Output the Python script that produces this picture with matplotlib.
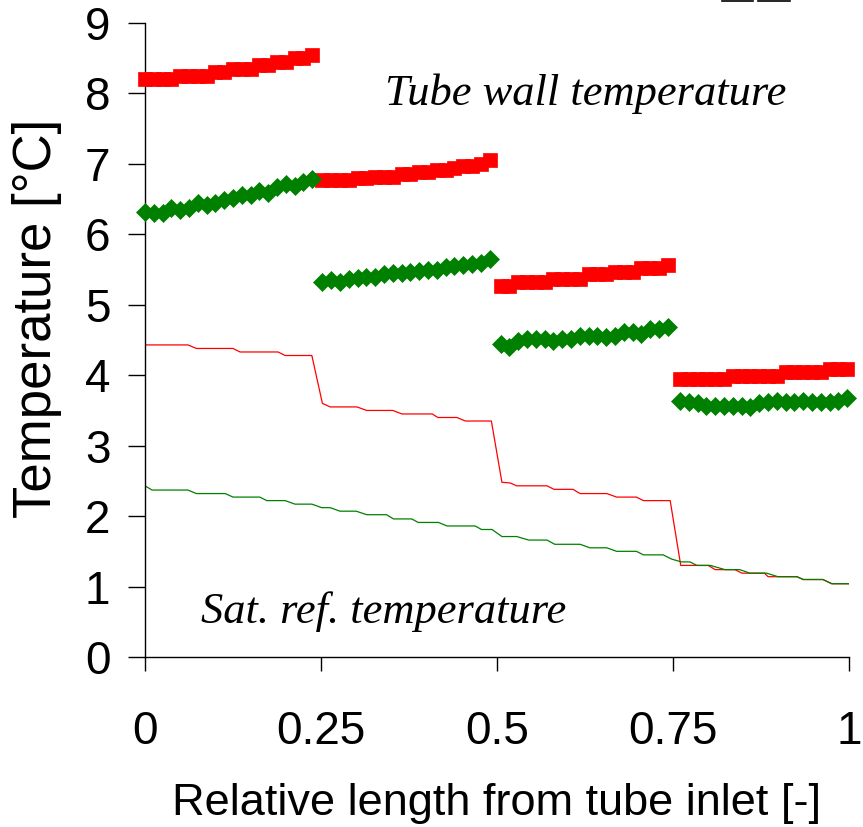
import numpy as np
import matplotlib
matplotlib.use("Agg")
import matplotlib.pyplot as plt
from matplotlib.lines import Line2D

plt.rcParams['font.family'] = ['Liberation Sans', 'DejaVu Sans']

# ---------------- data ----------------
seg_starts = [0.0, 0.252, 0.505, 0.76]
seg_step = 0.0125
n_per_seg = 20

wall_red = [
    [8.20, 8.20, 8.20, 8.20, 8.25, 8.25, 8.25, 8.25, 8.30, 8.30,
     8.35, 8.35, 8.35, 8.40, 8.40, 8.45, 8.45, 8.50, 8.50, 8.55],
    [6.77, 6.77, 6.77, 6.77, 6.80, 6.80, 6.82, 6.82, 6.82, 6.85,
     6.85, 6.88, 6.88, 6.91, 6.91, 6.94, 6.97, 6.97, 7.00, 7.05],
    [5.27, 5.27, 5.32, 5.32, 5.32, 5.32, 5.37, 5.37, 5.37, 5.37,
     5.43, 5.43, 5.43, 5.47, 5.47, 5.47, 5.52, 5.52, 5.52, 5.57],
    [3.94, 3.94, 3.94, 3.94, 3.94, 3.94, 3.99, 3.99, 3.99, 3.99,
     3.99, 3.99, 4.04, 4.04, 4.04, 4.04, 4.04, 4.09, 4.09, 4.09],
]

wall_green = [
    [6.32, 6.30, 6.30, 6.37, 6.35, 6.37, 6.44, 6.42, 6.44, 6.49,
     6.51, 6.56, 6.56, 6.62, 6.58, 6.67, 6.71, 6.69, 6.75, 6.78],
    [5.33, 5.35, 5.33, 5.37, 5.38, 5.40, 5.40, 5.43, 5.45, 5.45,
     5.47, 5.48, 5.50, 5.50, 5.53, 5.55, 5.57, 5.58, 5.60, 5.65],
    [4.44, 4.40, 4.49, 4.51, 4.51, 4.51, 4.49, 4.51, 4.51, 4.56,
     4.56, 4.56, 4.54, 4.56, 4.61, 4.61, 4.59, 4.65, 4.65, 4.69],
    [3.63, 3.62, 3.60, 3.57, 3.56, 3.57, 3.57, 3.56, 3.55, 3.60,
     3.62, 3.63, 3.62, 3.62, 3.63, 3.62, 3.62, 3.62, 3.64, 3.67],
]

sat_red_x = [0, 0.061, 0.073, 0.125, 0.135, 0.189, 0.199, 0.237, 0.252, 0.263,
             0.301, 0.315, 0.352, 0.365, 0.408, 0.416, 0.443, 0.455, 0.492, 0.507,
             0.519, 0.528, 0.571, 0.581, 0.608, 0.618, 0.656, 0.670, 0.698, 0.708,
             0.746, 0.761, 0.800, 0.810, 0.838, 0.848, 0.880, 0.885, 0.926, 0.935,
             0.963, 0.976, 1.0]
sat_red_y = [4.43, 4.43, 4.38, 4.38, 4.33, 4.33, 4.28, 4.28, 3.60, 3.55,
             3.55, 3.50, 3.50, 3.45, 3.45, 3.40, 3.40, 3.35, 3.35, 2.48,
             2.47, 2.43, 2.43, 2.38, 2.38, 2.32, 2.32, 2.27, 2.27, 2.22,
             2.22, 1.30, 1.30, 1.24, 1.24, 1.19, 1.19, 1.14, 1.14, 1.10,
             1.10, 1.04, 1.04]

sat_green_x = [0, 0.010, 0.061, 0.073, 0.114, 0.125, 0.163, 0.173, 0.199, 0.213,
               0.237, 0.251, 0.263, 0.277, 0.300, 0.315, 0.343, 0.353, 0.379, 0.388,
               0.417, 0.429, 0.469, 0.478, 0.493, 0.507, 0.528, 0.545, 0.571, 0.582,
               0.618, 0.632, 0.656, 0.670, 0.698, 0.708, 0.736, 0.748, 0.762, 0.774,
               0.784, 0.803, 0.824, 0.845, 0.859, 0.883, 0.899, 0.926, 0.935, 0.963,
               0.975, 1.0]
sat_green_y = [2.43, 2.37, 2.37, 2.32, 2.32, 2.27, 2.27, 2.22, 2.22, 2.17,
               2.17, 2.12, 2.12, 2.07, 2.07, 2.02, 2.02, 1.96, 1.96, 1.91,
               1.91, 1.86, 1.86, 1.81, 1.81, 1.71, 1.71, 1.66, 1.66, 1.60,
               1.60, 1.55, 1.55, 1.50, 1.50, 1.45, 1.45, 1.39, 1.35, 1.35,
               1.30, 1.30, 1.24, 1.24, 1.19, 1.19, 1.14, 1.14, 1.10, 1.10,
               1.04, 1.04]

x_ticks = [0, 0.25, 0.5, 0.75, 1]
x_tick_labels = ['0', '0.25', '0.5', '0.75', '1']
y_ticks = [0, 1, 2, 3, 4, 5, 6, 7, 8, 9]

RED = '#FF0000'
GREEN = '#008000'

# ---------------- figure ----------------
W, H = 863, 827
fig = plt.figure(figsize=(W / 100, H / 100), dpi=100)
ax = fig.add_axes([145 / W, (H - 657) / H, (849 - 145) / W, (657 - 23) / H])

ax.plot(sat_red_x, sat_red_y, color=RED, lw=0.9, zorder=2)
ax.plot(sat_green_x, sat_green_y, color=GREEN, lw=0.9, zorder=2)

for k, x0 in enumerate(seg_starts):
    xs = x0 + seg_step * np.arange(n_per_seg)
    ax.plot(xs, wall_red[k], ls='none', marker='s', ms=10.3, mfc=RED, mec=RED,
            mew=0.5, clip_on=False, zorder=3)
    ax.plot(xs, wall_green[k], ls='none', marker='D', ms=9.4, mfc=GREEN, mec=GREEN,
            mew=0.5, clip_on=False, zorder=4)

ax.set_xlim(0, 1)
ax.set_ylim(0, 9)
ax.set_xticks(x_ticks)
ax.set_xticklabels(x_tick_labels)
ax.set_yticks(y_ticks)
for s in ['top', 'right']:
    ax.spines[s].set_visible(False)
for s in ['left', 'bottom']:
    ax.spines[s].set_linewidth(1.0)
    ax.spines[s].set_color('black')

ax.tick_params(axis='y', direction='out', length=12, width=1, labelsize=33, pad=13)
ax.tick_params(axis='x', direction='out', length=10, width=1, labelsize=33, pad=28)

ax.text(0.341, 7.84, 'Tube wall temperature', family=['Liberation Serif', 'DejaVu Serif'],
        style='italic', fontsize=32, ha='left', va='baseline')
ax.text(0.079, 0.48, 'Sat. ref. temperature', family=['Liberation Serif', 'DejaVu Serif'],
        style='italic', fontsize=32, ha='left', va='baseline')

fig.text(37 / W, 1 - 318 / H, 'Temperature [°C]', rotation=90, fontsize=38,
         ha='center', va='center')
fig.text(497 / W, 1 - 815 / H, 'Relative length from tube inlet [-]', fontsize=32.5,
         ha='center', va='baseline')

# cut-off legend edges at the top border
for xa, xb in [(722, 753), (758, 790)]:
    fig.add_artist(Line2D([xa / W, xb / W], [1 - 0.8 / H, 1 - 0.8 / H],
                          color='black', lw=1.2, transform=fig.transFigure))

fig.savefig('out.png', dpi=100)
